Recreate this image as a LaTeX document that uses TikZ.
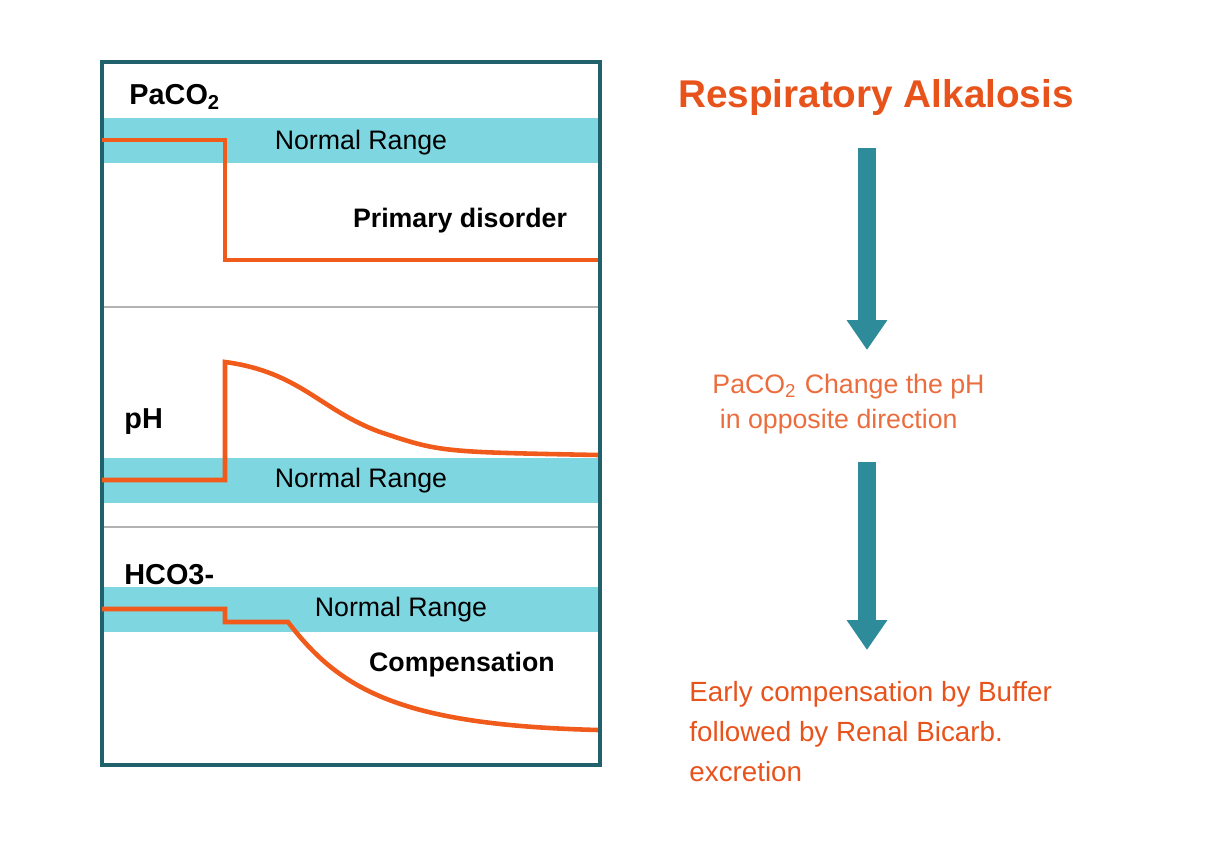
\documentclass[tikz,border=0pt]{standalone}
\usepackage{fontspec}
\setmainfont{Liberation Sans}
\usetikzlibrary{arrows.meta}
\definecolor{bandblue}{HTML}{7DD6E0}
\definecolor{curve}{HTML}{F05A1A}
\definecolor{note}{HTML}{E8531C}
\definecolor{arrowteal}{HTML}{2E8B9A}
\begin{document}
\begin{tikzpicture}[x=0.01cm,y=-0.01cm,
    panel/.style={draw=arrowteal!70!black,line width=1.2pt},
    normalband/.style={fill=bandblue},
    level/.style={draw=curve,line width=1.3pt},
    axisname/.style={anchor=west,font=\fontsize{8.2}{9}\selectfont\bfseries},
    rangetext/.style={font=\fontsize{7.6}{8}\selectfont},
    tag/.style={font=\fontsize{7.6}{8}\selectfont\bfseries},
    flowarrow/.style={draw=arrowteal,line width=5.1pt,-{Triangle[width=11pt,length=8.5pt]}}]
  \useasboundingbox (0,0) rectangle (1232,848);
  % bands
  \fill[normalband] (102,118) rectangle (600,163);
  \fill[normalband] (102,458) rectangle (600,503);
  \fill[normalband] (102,587) rectangle (600,632);
  % separators
  \draw[gray!60,line width=0.8pt] (102,307) -- (600,307);
  \draw[gray!60,line width=0.8pt] (102,527) -- (600,527);
  \draw[panel] (102,62) rectangle (600,765);
  % labels
  \node[axisname] (paco2) at (117,97) {PaCO\textsubscript{2}};
  \node[axisname] (ph) at (112,422) {pH};
  \node[axisname] (hco3) at (112,575) {HCO3-};
  \node[rangetext] (r1) at (361,143) {Normal Range};
  \node[rangetext] (r2) at (361,481) {Normal Range};
  \node[rangetext] (r3) at (401,610) {Normal Range};
  \node[tag] (primary) at (460,221) {Primary disorder};
  \node[tag] (comp) at (462,665) {Compensation};
  % curves
  \draw[level] (102,140) -- (225,140) -- (225,260) -- (598,260);
  \draw[level] (102,480) -- (225,480) -- (225,362)
    .. controls (300,372) and (320,410) .. (380,432)
    .. controls (440,452) .. (598,455);
  \draw[level] (102,609) -- (225,609) -- (225,622) -- (288,622)
    .. controls (340,690) and (400,725) .. (598,730);
  % right side
  \node[font=\fontsize{11}{12}\selectfont\bfseries,text=note] (title) at (876,97) {Respiratory Alkalosis};
  \node[font=\fontsize{7.6}{10}\selectfont,text=note!85,align=left,anchor=north west] (effect) at (700,362)
    {PaCO\textsubscript{2} Change the pH\\\ in opposite direction};
  \node[font=\fontsize{7.9}{11.3}\selectfont,text=note,align=left,anchor=north west] (result) at (677,669)
    {Early compensation by Buffer\\followed by Renal Bicarb.\\excretion};
  \coordinate (a1) at (867,148);
  \coordinate (b1) at (867,350);
  \coordinate (a2) at (867,462);
  \coordinate (b2) at (867,650);
  \draw[flowarrow] (a1) -- (b1);
  \draw[flowarrow] (a2) -- (b2);
\end{tikzpicture}
\end{document}
